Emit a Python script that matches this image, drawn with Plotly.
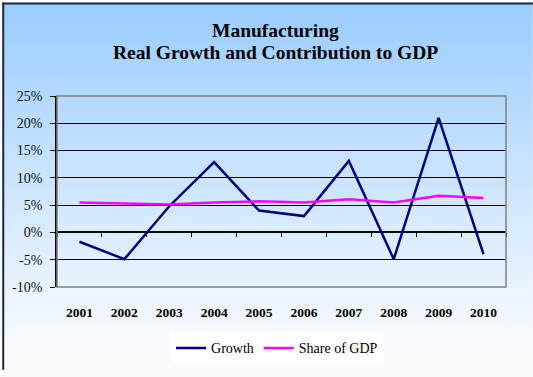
import base64
import plotly.graph_objects as go

# Chart data
years = ["2001", "2002", "2003", "2004", "2005", "2006", "2007", "2008", "2009", "2010"]
growth = [-1.7, -4.9, 4.8, 12.9, 4.0, 3.0, 13.1, -4.9, 21.0, -4.0]
share_of_gdp = [5.5, 5.3, 5.1, 5.5, 5.7, 5.5, 6.1, 5.5, 6.7, 6.3]
y_ticks = [-10, -5, 0, 5, 10, 15, 20, 25]
y_tick_text = [f"{v}%" for v in y_ticks]
title_lines = ["Manufacturing", "Real Growth and Contribution to GDP"]

W, H = 533, 377
L, R, T, B = 55, 27, 96, 85
plot_w = W - L - R
plot_h = H - T - B

serif = "Liberation Serif"


def paper_y(px):
    """Convert a pixel row from the top of the page to paper y."""
    return (T + plot_h - px) / plot_h


def paper_x(px):
    return (px - L) / plot_w


# vertical blue-to-white gradient for the chart background
svg = (
    '<svg xmlns="http://www.w3.org/2000/svg" width="100" height="100" preserveAspectRatio="none">'
    '<defs><linearGradient id="g" x1="0" y1="0" x2="0" y2="1">'
    '<stop offset="0" stop-color="#99CCFF"/>'
    '<stop offset="0.55" stop-color="#D2E8FF"/>'
    '<stop offset="0.9" stop-color="#F6F9FF"/>'
    '<stop offset="1" stop-color="#F9FBFF"/>'
    '</linearGradient></defs>'
    '<rect width="100" height="100" fill="url(#g)"/></svg>'
)
bg_uri = "data:image/svg+xml;base64," + base64.b64encode(svg.encode()).decode()

fig = go.Figure()

fig.add_trace(go.Scatter(
    x=years, y=growth, name="Growth", mode="lines",
    line=dict(color="#000080", width=2.5),
))
fig.add_trace(go.Scatter(
    x=years, y=share_of_gdp, name="Share of GDP", mode="lines",
    line=dict(color="#FF00FF", width=2.5),
))
# invisible helper trace so the category tick marks on the zero line render
fig.add_trace(go.Scatter(
    x=years, y=growth, xaxis="x2", mode="lines", line=dict(width=0),
    showlegend=False, hoverinfo="skip", opacity=0,
))

zero_pos = (0 - y_ticks[0]) / (y_ticks[-1] - y_ticks[0])

title_annotations = [
    dict(text=f"<b>{line}</b>", xref="paper", yref="paper",
         x=paper_x(274), y=paper_y(py), xanchor="center", yanchor="middle",
         showarrow=False, font=dict(family=serif, size=19.5, color="#000000"))
    for line, py in zip(title_lines, [29, 51])
]

fig.update_layout(
    width=W, height=H,
    margin=dict(l=L, r=R, t=T, b=B),
    paper_bgcolor="#F9FBFF",
    plot_bgcolor="#C0C0C0",
    font=dict(family=serif),
    annotations=title_annotations,
    xaxis=dict(
        type="category", categoryarray=years, range=[-0.5, len(years) - 0.5],
        showgrid=False, zeroline=False, showline=False,
        ticks="outside", ticklen=13, tickcolor="rgba(0,0,0,0)",
        tickfont=dict(family=serif, size=13.5, color="#000000"),
        tickprefix="<b>", ticksuffix="</b>",
    ),
    xaxis2=dict(
        type="category", categoryarray=years, range=[-0.5, len(years) - 0.5],
        overlaying="x", anchor="free", position=zero_pos,
        showgrid=False, zeroline=False, showline=False,
        ticks="outside", tickson="boundaries", ticklen=4, tickcolor="#000000",
        showticklabels=False,
    ),
    yaxis=dict(
        range=[y_ticks[0], y_ticks[-1]],
        tickmode="array", tickvals=y_ticks, ticktext=y_tick_text,
        showgrid=True, gridcolor="#000000", gridwidth=1,
        zeroline=True, zerolinecolor="#000000", zerolinewidth=2,
        showline=True, linecolor="#000000", linewidth=1.5,
        ticks="outside", ticklen=5, tickcolor="#000000",
        ticklabelstandoff=5,
        tickfont=dict(family=serif, size=14, color="#111122"),
    ),
    legend=dict(
        orientation="h", x=paper_x(276), xanchor="center",
        y=paper_y(355), yanchor="middle",
        bgcolor="#FFFFFF", font=dict(family=serif, size=14, color="#000000"),
        itemwidth=30,
    ),
    images=[dict(
        source=bg_uri, xref="paper", yref="paper",
        x=-L / plot_w, y=1 + T / plot_h,
        sizex=W / plot_w, sizey=H / plot_h,
        xanchor="left", yanchor="top", sizing="stretch", layer="below",
    )],
    shapes=[
        # plot-area frame
        dict(type="rect", xref="paper", yref="paper", x0=0, x1=1, y0=0, y1=1,
             line=dict(color="#808080", width=1.5), layer="above"),
        # outer chart border (left and top)
        dict(type="line", xref="paper", yref="paper",
             x0=paper_x(1), x1=paper_x(1), y0=paper_y(0), y1=paper_y(H),
             line=dict(color="#1C2A44", width=2), layer="above"),
        dict(type="line", xref="paper", yref="paper",
             x0=paper_x(0), x1=paper_x(W), y0=paper_y(1), y1=paper_y(1),
             line=dict(color="#1C2A44", width=2), layer="above"),
    ],
)

fig.write_html("out.html")
